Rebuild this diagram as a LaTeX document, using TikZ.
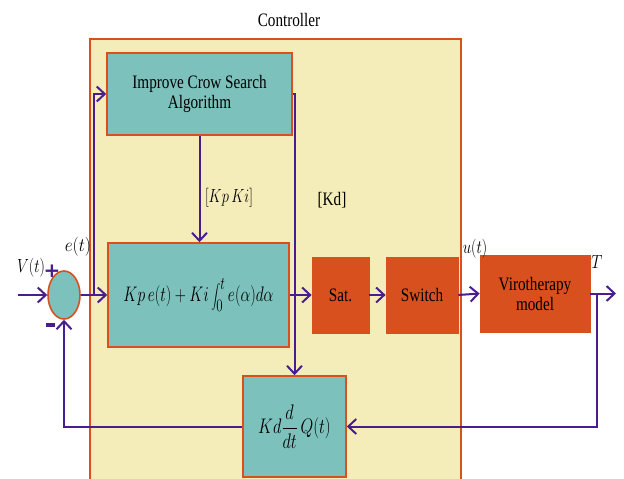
\documentclass[tikz,border=0pt]{standalone}
\usepackage{graphicx}
\usepackage{fontspec}
\setmainfont{Liberation Serif}
\newfontfamily\cond[FakeStretch=0.8]{Liberation Serif}
\newfontfamily\signfont{DejaVu Sans}
\usetikzlibrary{arrows.meta,shapes.geometric}
\definecolor{myorange}{HTML}{D9501F}
\definecolor{myteal}{HTML}{7CC1BC}
\definecolor{myyellow}{HTML}{F5EDB9}
\definecolor{mypurple}{HTML}{4A1D8F}
\newcommand{\cm}[2][0.9]{\scalebox{#1}[1.22]{$\displaystyle #2$}}
\newcommand{\cml}[2][0.9]{\scalebox{#1}[1.1]{$#2$}}
\tikzset{
  txt/.style={font=\cond\fontsize{19}{20}\selectfont},
  tealbox/.style={draw=myorange, line width=1.6pt, fill=myteal, inner sep=0pt, align=center, txt},
  redbox/.style={draw=myorange, line width=0.8pt, fill=myorange, inner sep=0pt, align=center, txt},
  conn/.style={draw=mypurple, line width=2pt},
  arr/.style={conn, -{Straight Barb[length=8pt,width=15pt,line width=2pt]}},
  lbl/.style={inner sep=0pt, font=\fontsize{17}{19}\selectfont},
  sign/.style={font=\signfont\bfseries\fontsize{20}{20}\selectfont, text=mypurple, inner sep=0pt}
}
\begin{document}
\begin{tikzpicture}[x=1pt,y=-1pt]
\useasboundingbox (0,0) rectangle (624,479);
% controller frame
\node[draw=myorange, fill=myyellow, line width=1.6pt, minimum width=371pt, minimum height=460pt, inner sep=0pt, anchor=north west] (ctrl) at (89,38) {};
\node[txt, inner sep=0pt] (ctrltxt) at (289,20) {Controller};
% blocks
\node[tealbox, minimum width=185pt, minimum height=82pt] (icsa) at (199.5,94) {Improve Crow Search\\Algorithm};
\node[tealbox, minimum width=181pt, minimum height=104pt] (pi) at (198.5,295) {\cm{Kp\,e(t)+Ki\int_0^t e(\alpha)d\alpha}};
\node[redbox, minimum width=57pt, minimum height=76pt] (sat) at (340.5,295) {Sat.};
\node[redbox, minimum width=72pt, minimum height=76pt] (sw) at (422,295) {Switch};
\node[redbox, minimum width=110pt, minimum height=77pt] (viro) at (535,293.5) {Virotherapy\\model};
\node[tealbox, minimum width=103pt, minimum height=101pt] (kd) at (294.5,426.5) {\cm[0.95]{Kd\frac{d}{dt}\,Q(t)}};
\node[draw=myorange, fill=myteal, line width=1.6pt, ellipse, minimum width=32pt, minimum height=48pt, inner sep=0pt] (sum) at (64,295) {};
% coordinates
\coordinate (in) at (18,295);
\coordinate (br) at (94,295);
\coordinate (out) at (616,293.5);
\coordinate (fb) at (597,293.5);
% connectors
\draw[arr] (in) -- (sum.west);
\draw[arr] (sum.east) -- (pi.west);
\draw[arr] (br) |- (icsa.west);
\draw[arr] (icsa.south) -- (icsa.south |- pi.north);
\draw[arr] (icsa.east) -| (kd.north);
\draw[arr] (pi.east) -- (sat.west);
\draw[arr] (sat.east) -- (sw.west);
\draw[arr] (sw.east) -- (viro.west);
\draw[arr] (viro.east) -- (out);
\draw[arr] (fb) |- (kd.east);
\draw[arr] (kd.west) -| (sum.south);
% labels
\node[lbl] (vt) at (31,268) {\cml[0.87]{V(t)}};
\node[sign] (plus) at (52,271) {+};
\node[fill=mypurple, minimum width=9pt, minimum height=3.5pt, inner sep=0pt] (minus) at (50,325) {};
\node[lbl] (et) at (78,247) {\cml[1.0]{e(t)}};
\node[lbl] (kpki) at (229,198) {\cml[0.84]{[Kp\,Ki]}};
\node[txt, inner sep=0pt] (kdl) at (332,200) {[Kd]};
\node[lbl] (ut) at (475,249) {\cml[0.87]{u(t)}};
\node[lbl] (T) at (597,262) {\cml{T}};
\end{tikzpicture}
\end{document}
